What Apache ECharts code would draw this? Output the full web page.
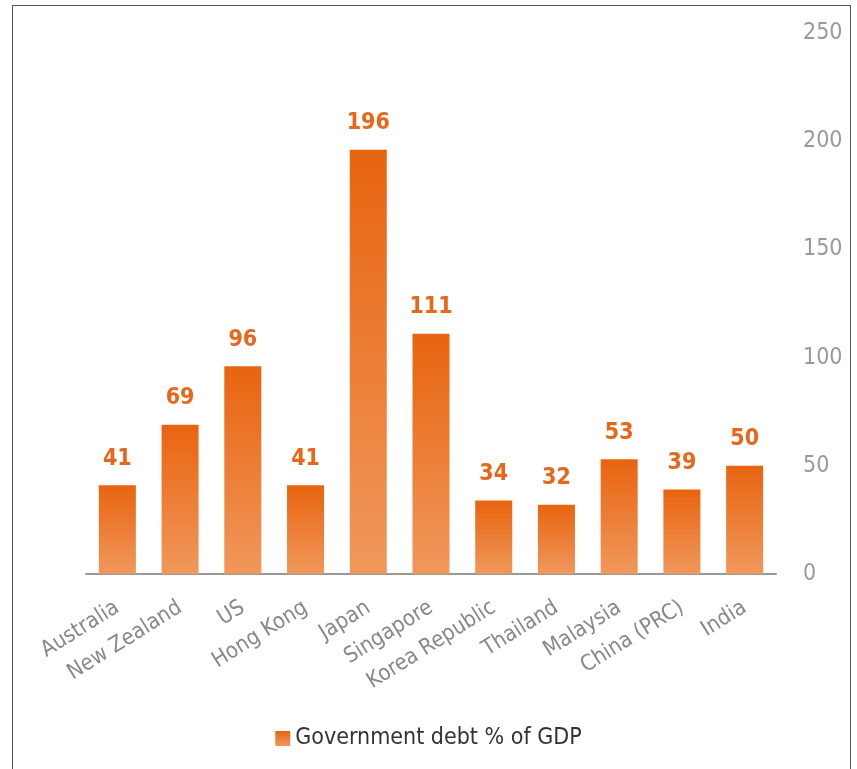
<!DOCTYPE html>
<html>
<head>
<meta charset="utf-8">
<script src="https://cdn.jsdelivr.net/npm/echarts@6/dist/echarts.min.js"></script>
<style>
html,body{margin:0;padding:0;background:#fff;}
#c{position:absolute;left:0;top:0;width:857px;height:769px;}
#frame{position:absolute;left:12px;top:5px;width:839px;height:800px;border:1px solid #555;box-sizing:border-box;pointer-events:none;}
</style>
</head>
<body>
<div id="c"></div>
<div id="frame"></div>
<script>
const categories = ['Australia','New Zealand','US','Hong Kong','Japan','Singapore','Korea Republic','Thailand','Malaysia','China (PRC)','India'];
const debtValues = [41, 69, 96, 41, 196, 111, 34, 32, 53, 39, 50];
const seriesName = 'Government debt % of GDP';
const yMin = 0, yMax = 250, yInterval = 50;

const FONT = '"Liberation Sans Narrow", "DejaVu Sans Condensed", "Roboto", sans-serif';
const grad = new echarts.graphic.LinearGradient(0, 0, 0, 1, [
  {offset: 0, color: '#E8640F'},
  {offset: 1, color: '#F0985C'}
]);
const chart = echarts.init(document.getElementById('c'));
chart.setOption({
  backgroundColor: '#fff',
  animation: false,
  grid: {left: 86, right: 81, top: 33, bottom: 195},
  legend: {
    bottom: 14, left: 'center',
    itemWidth: 15, itemHeight: 15, itemGap: 8,
    icon: 'rect',
    textStyle: {fontFamily: FONT, fontSize: 23, color: '#333'},
    data: [seriesName]
  },
  xAxis: {
    type: 'category',
    data: categories,
    axisLine: {lineStyle: {color: '#999', width: 2}},
    axisTick: {show: false},
    axisLabel: {rotate: 32, interval: 0, fontFamily: FONT, fontSize: 22, color: '#888', margin: 32}
  },
  yAxis: {
    type: 'value',
    position: 'right',
    min: yMin, max: yMax, interval: yInterval,
    axisLine: {show: false},
    axisTick: {show: false},
    splitLine: {show: false},
    axisLabel: {fontFamily: FONT, fontSize: 23, color: '#999', margin: 27}
  },
  series: [{
    name: seriesName,
    type: 'bar',
    data: debtValues,
    barWidth: '59%',
    itemStyle: {color: grad},
    label: {show: true, position: 'top', distance: 15, fontFamily: FONT, fontSize: 23, fontWeight: 'bold', color: '#E8671A'}
  }]
});
</script>
</body>
</html>
